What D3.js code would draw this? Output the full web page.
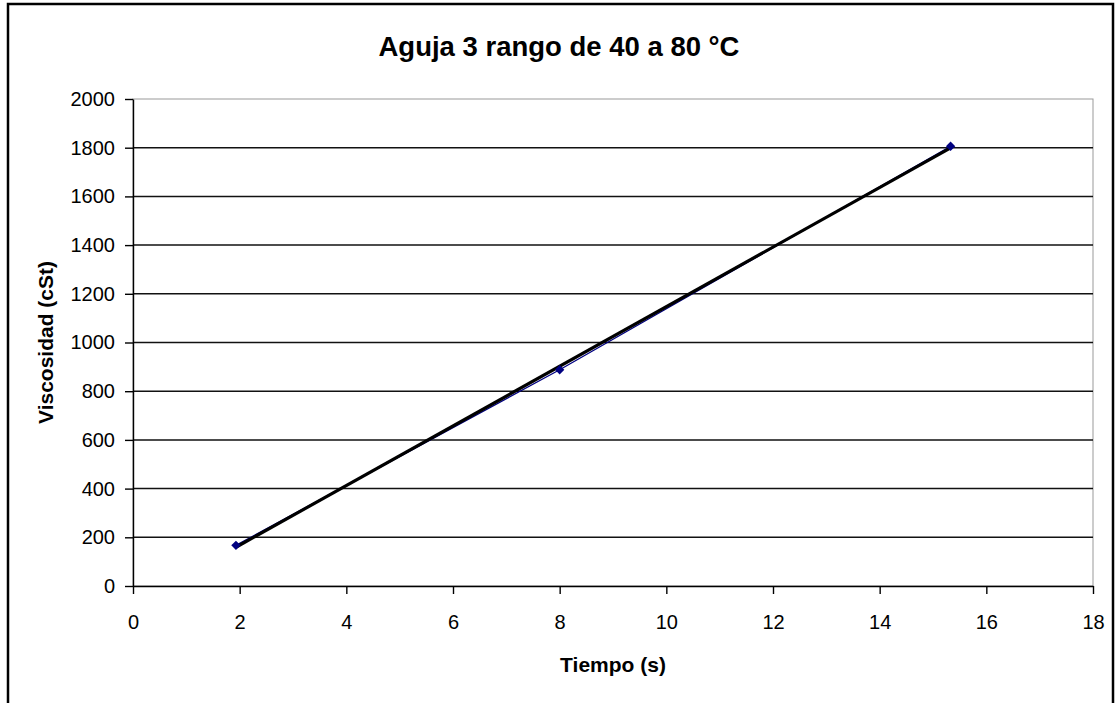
<!doctype html>
<html>
<head>
    <meta charset="utf-8">
    <style>
        body { margin: 0; background: #fff; }
        svg { display: block; font-family: "Liberation Sans", Arial, sans-serif; }
        .axis path, .axis line { stroke: #000; }
    </style>
    <script src="https://d3js.org/d3.v7.min.js"></script>
</head>
<body>
<script>
    // readings
    const tiempo = [1.93, 8.0, 15.33];
    const viscosidad = [167, 888, 1806];
    const xTicks = [0, 2, 4, 6, 8, 10, 12, 14, 16, 18];
    const yTicks = [0, 200, 400, 600, 800, 1000, 1200, 1400, 1600, 1800, 2000];

    const W = 1118, H = 703;
    const plot = {left: 133, top: 99, right: 1093, bottom: 586};

    const svg = d3.select('body').append('svg')
        .attr('width', W)
        .attr('height', H);

    // outer chart frame (bottom runs off the page)
    svg.append('rect')
        .attr('x', 8).attr('y', 4)
        .attr('width', 1105).attr('height', 720)
        .attr('fill', '#fff')
        .attr('stroke', '#000')
        .attr('stroke-width', 2.5);

    const x = d3.scaleLinear().domain([0, 18]).range([plot.left, plot.right]);
    const y = d3.scaleLinear().domain([0, 2000]).range([plot.bottom, plot.top]);

    // light plot-area border
    svg.append('rect')
        .attr('x', plot.left).attr('y', plot.top)
        .attr('width', plot.right - plot.left).attr('height', plot.bottom - plot.top)
        .attr('fill', 'none')
        .attr('stroke', '#999')
        .attr('stroke-width', 1);

    // gridlines
    svg.append('g')
        .selectAll('line')
        .data(yTicks.filter(d => d > 0 && d < 2000))
        .enter().append('line')
        .attr('x1', plot.left).attr('x2', plot.right)
        .attr('y1', d => y(d)).attr('y2', d => y(d))
        .attr('stroke', '#111')
        .attr('stroke-width', 1.5);

    svg.append('g')
        .attr('class', 'axis')
        .attr('transform', `translate(0,${plot.bottom})`)
        .call(d3.axisBottom(x).tickValues(xTicks).tickFormat(d3.format('d')).tickSize(8).tickSizeOuter(0).tickPadding(21))
        .call(g => g.selectAll('path, line').attr('stroke-width', 1.4))
        .call(g => g.selectAll('text').attr('font-size', 20).attr('fill', '#000'));

    svg.append('g')
        .attr('class', 'axis')
        .attr('transform', `translate(${plot.left},0)`)
        .call(d3.axisLeft(y).tickValues(yTicks).tickFormat(d3.format('d')).tickSize(8).tickSizeOuter(0).tickPadding(10))
        .call(g => g.selectAll('path, line').attr('stroke-width', 1.4))
        .call(g => g.selectAll('text').attr('font-size', 20).attr('fill', '#000'));

    // series line
    const line = d3.line().x((d, i) => x(tiempo[i])).y(d => y(d));
    svg.append('path')
        .datum(viscosidad)
        .attr('d', line)
        .attr('fill', 'none')
        .attr('stroke', '#000080')
        .attr('stroke-width', 1.3);

    // linear trendline (least squares over the data)
    const mx = d3.mean(tiempo), my = d3.mean(viscosidad);
    const slope = d3.sum(tiempo, (t, i) => (t - mx) * (viscosidad[i] - my)) / d3.sum(tiempo, t => (t - mx) * (t - mx));
    const icpt = my - slope * mx;
    const tx = d3.extent(tiempo);
    svg.append('line')
        .attr('x1', x(tx[0])).attr('y1', y(icpt + slope * tx[0]))
        .attr('x2', x(tx[1])).attr('y2', y(icpt + slope * tx[1]))
        .attr('stroke', '#000')
        .attr('stroke-width', 3.2);

    // diamond markers
    svg.append('g')
        .selectAll('path')
        .data(viscosidad)
        .enter().append('path')
        .attr('transform', (d, i) => `translate(${x(tiempo[i])},${y(d)}) rotate(45)`)
        .attr('d', 'M-3.3,-3.3H3.3V3.3H-3.3Z')
        .attr('fill', '#000080');

    // titles
    svg.append('text')
        .attr('x', 559).attr('y', 56)
        .attr('text-anchor', 'middle')
        .attr('font-size', 27.5)
        .attr('font-weight', 'bold')
        .text('Aguja 3 rango de 40 a 80 °C');

    svg.append('text')
        .attr('x', (plot.left + plot.right) / 2).attr('y', 672)
        .attr('text-anchor', 'middle')
        .attr('font-size', 21)
        .attr('font-weight', 'bold')
        .text('Tiempo (s)');

    svg.append('text')
        .attr('transform', `translate(53,${(plot.top + plot.bottom) / 2}) rotate(-90)`)
        .attr('text-anchor', 'middle')
        .attr('font-size', 21)
        .attr('font-weight', 'bold')
        .text('Viscosidad (cSt)');
</script>
</body>
</html>
